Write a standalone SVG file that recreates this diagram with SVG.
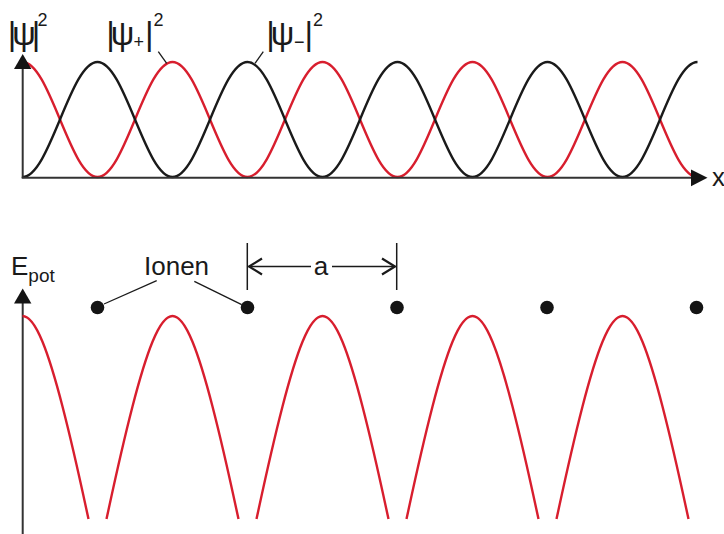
<svg xmlns="http://www.w3.org/2000/svg" xmlns:xlink="http://www.w3.org/1999/xlink" width="724" height="534" viewBox="0 0 724 534">
<style>
  text { font-family: "Liberation Sans", Arial, sans-serif; fill: #1a1a1a; }
  .axis { stroke: #333; stroke-width: 2; fill: none; }
  .head { fill: #141414; stroke: none; }
  .red { stroke: #d81e2e; stroke-width: 2.4; fill: none; }
  .blk { stroke: #1a1a1a; stroke-width: 2.4; fill: none; }
  .lead { stroke: #1a1a1a; stroke-width: 1.3; fill: none; }
  .dim { stroke: #1a1a1a; stroke-width: 1.5; fill: none; }
  .dimhead { stroke: #1a1a1a; stroke-width: 2.2; fill: none; stroke-linejoin: miter; }
  .ion { fill: #141414; }
  .abs { font-size: 33px; letter-spacing: -4px; }
  .sup { font-size: 18px; letter-spacing: 0; }
  .sub { font-size: 18px; letter-spacing: 0; }
  .bar2 { font-size: 33px; letter-spacing: 0; }
  .lbl { font-size: 26px; }
</style>
<defs>
  <path id="arc" d="M-66,519.1 Q-50.96,448.8 -40,406.5 Q-28.85,363.4 -20,341.8 Q-9.44,316 0,316 Q9.44,316 20,341.8 Q28.85,363.4 40,406.5 Q50.96,448.8 66,519.1"/>
</defs>
<rect width="724" height="534" fill="#fff"/>

<!-- top plot curves -->
<g id="psi-curves">
  <path id="psi-plus-curve" class="red" d="M22.5,62 c13.57,0 25.27,28.04 37.5,57.5 s23.93,57.5 37.5,57.5 s25.27,-28.04 37.5,-57.5 s23.93,-57.5 37.5,-57.5 s25.27,28.04 37.5,57.5 s23.93,57.5 37.5,57.5 s25.27,-28.04 37.5,-57.5 s23.93,-57.5 37.5,-57.5 s25.27,28.04 37.5,57.5 s23.93,57.5 37.5,57.5 s25.27,-28.04 37.5,-57.5 s23.93,-57.5 37.5,-57.5 s25.27,28.04 37.5,57.5 s23.93,57.5 37.5,57.5 s25.27,-28.04 37.5,-57.5 s23.93,-57.5 37.5,-57.5 s25.27,28.04 37.5,57.5 s23.93,57.5 37.5,57.5"/>
  <path id="psi-minus-curve" class="blk" d="M22.5,177 c13.57,0 25.27,-28.04 37.5,-57.5 s23.93,-57.5 37.5,-57.5 s25.27,28.04 37.5,57.5 s23.93,57.5 37.5,57.5 s25.27,-28.04 37.5,-57.5 s23.93,-57.5 37.5,-57.5 s25.27,28.04 37.5,57.5 s23.93,57.5 37.5,57.5 s25.27,-28.04 37.5,-57.5 s23.93,-57.5 37.5,-57.5 s25.27,28.04 37.5,57.5 s23.93,57.5 37.5,57.5 s25.27,-28.04 37.5,-57.5 s23.93,-57.5 37.5,-57.5 s25.27,28.04 37.5,57.5 s23.93,57.5 37.5,57.5 s25.27,-28.04 37.5,-57.5 s23.93,-57.5 37.5,-57.5"/>
</g>

<!-- top axes -->
<g id="top-axes">
  <line class="axis" x1="22.7" y1="178" x2="22.7" y2="66"/>
  <polygon class="head" points="22.7,54 14,69 31.4,69"/>
  <line class="axis" x1="21.7" y1="177.8" x2="694" y2="177.8"/>
  <polygon class="head" points="707.5,177.8 691,169.5 691,186.2"/>
  <text class="lbl" x="712" y="186">x</text>
</g>

<!-- labels top -->
<g id="label-psi">
  <text class="abs" x="7.7" y="44.8">|ψ|<tspan class="sup" dx="1.1" dy="-18.8">2</tspan></text>
</g>
<g id="label-psi-plus">
  <text class="abs" x="106.2" y="44.8">|ψ<tspan class="sub" dx="3.2" dy="3.2">+</tspan><tspan class="bar2" dx="1" dy="-3.2">|</tspan><tspan class="sup" dy="-18.8">2</tspan></text>
</g>
<g id="label-psi-minus">
  <text class="abs" x="266.2" y="44.8">|ψ<tspan class="sub" dx="3.6" dy="3.2">−</tspan><tspan class="bar2" dy="-3.2">|</tspan><tspan class="sup" dy="-18.8">2</tspan></text>
</g>

<!-- bottom axis -->
<g id="bottom-axis">
  <line class="axis" x1="22.7" y1="534" x2="22.7" y2="300"/>
  <polygon class="head" points="22.7,288.5 14,303.5 31.4,303.5"/>
  <text class="lbl" x="11" y="275">E<tspan dy="7" style="font-size:19px">pot</tspan></text>
</g>

<!-- potential -->
<g id="potential">
  <path class="red" d="M22.5,316 Q31.94,316 42.5,341.8 Q51.35,363.4 62.5,406.5 Q73.46,448.8 88.5,519.1"/>
  <use xlink:href="#arc" href="#arc" class="red" x="172.5"/>
  <use xlink:href="#arc" href="#arc" class="red" x="322.5"/>
  <use xlink:href="#arc" href="#arc" class="red" x="472.5"/>
  <use xlink:href="#arc" href="#arc" class="red" x="622.5"/>
</g>

<!-- ions -->
<g id="ions">
  <circle class="ion" cx="97.5" cy="307.5" r="6.8"/>
  <circle class="ion" cx="247.5" cy="307.5" r="6.8"/>
  <circle class="ion" cx="397" cy="307.5" r="6.8"/>
  <circle class="ion" cx="547" cy="307.5" r="6.8"/>
  <circle class="ion" cx="696.5" cy="307.5" r="6.8"/>
</g>

<g id="label-ionen">
  <text class="lbl" x="144" y="274.7">Ionen</text>
</g>

<!-- connectors / leaders -->
<g id="connectors">
  <line class="lead" x1="158.3" y1="51.7" x2="166.7" y2="63.3"/>
  <line class="lead" x1="263.3" y1="51.7" x2="255" y2="63.3"/>
  <line class="lead" x1="156.7" y1="280.7" x2="104" y2="304"/>
  <line class="lead" x1="194.3" y1="281.3" x2="241.7" y2="304.7"/>
</g>

<!-- dimension a -->
<g id="dimension-a">
  <line class="dim" x1="247.3" y1="243" x2="247.3" y2="290"/>
  <line class="dim" x1="396.7" y1="243" x2="396.7" y2="290"/>
  <line class="dim" x1="249" y1="266.5" x2="311" y2="266.5"/>
  <line class="dim" x1="332" y1="266.5" x2="395" y2="266.5"/>
  <polyline class="dimhead" points="262,258.5 249,266.5 262,274.5"/>
  <polyline class="dimhead" points="382,258.5 395,266.5 382,274.5"/>
  <text class="lbl" x="321" y="274.7" text-anchor="middle">a</text>
</g>
</svg>
